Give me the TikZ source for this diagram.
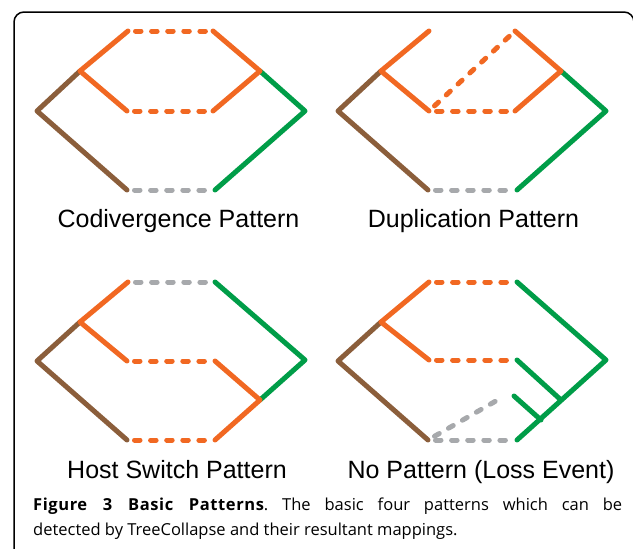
\documentclass[tikz,border=0pt]{standalone}
\usepackage{fontspec}
\usepackage{xcolor}
\usetikzlibrary{positioning}
\newfontfamily\labfont{Liberation Sans}
\newfontfamily\capfont{Open Sans}
\newfontfamily\capbold[LetterSpace=3.5]{Open Sans Bold}
\definecolor{hostbrown}{RGB}{139,94,59}
\definecolor{hostgreen}{RGB}{0,157,72}
\definecolor{parorange}{RGB}{241,104,34}
\definecolor{lossgray}{RGB}{167,169,172}

\begin{document}
\frenchspacing
\begin{tikzpicture}[x=1pt, y=-1pt,
    branch/.style={line width=5pt, line cap=round, line join=round},
    link/.style={branch, dash pattern=on 5.5pt off 10.6pt, shorten <=7.5pt, shorten >=7.5pt},
    tag/.style={font=\labfont\fontsize{25}{30}\selectfont, anchor=base, inner sep=0pt},
    captext/.style={font=\capfont\fontsize{16.5}{26}\selectfont, anchor=base west, inner sep=0pt}]
    \useasboundingbox (0,0) rectangle (633,549);
    \clip (0,0) rectangle (633,549);

    % Frame
    \draw[line width=1.5pt, rounded corners=10pt] (14,12) rectangle (634,575);

    % Codivergence pattern
    \begin{scope}
        \coordinate (root) at (37,111);
        \coordinate (pj) at (80,71);
        \coordinate (tl) at (128,31);
        \coordinate (ml) at (127,111);
        \coordinate (bl) at (127,190);
        \coordinate (tr) at (213,31);
        \coordinate (mr) at (213,111);
        \coordinate (br) at (215,190);
        \coordinate (rj) at (260,71);
        \coordinate (rroot) at (305,111);
        \draw[branch, hostbrown] (pj) -- (root) -- (bl);
        \draw[branch, hostgreen] (rj) -- (rroot) -- (br);
        \draw[branch, parorange] (tl) -- (pj) -- (ml);
        \draw[branch, parorange] (tr) -- (rj) -- (mr);
        \draw[link, parorange] (tl) -- (tr);
        \draw[link, parorange] (ml) -- (mr);
        \draw[link, lossgray] (bl) -- (br);
        \node[tag] (codiv) at (178.5,227) {Codivergence Pattern};
    \end{scope}

    % Duplication pattern
    \begin{scope}[shift={(301,0)}]
        \coordinate (root) at (37,111);
        \coordinate (pj) at (80,71);
        \coordinate (tl) at (128,31);
        \coordinate (ml) at (128,111);
        \coordinate (bl) at (127,190);
        \coordinate (tr) at (214,31);
        \coordinate (mr) at (214,111);
        \coordinate (br) at (216,190);
        \coordinate (rj) at (260,71);
        \coordinate (rroot) at (305,111);
        \draw[branch, hostbrown] (pj) -- (root) -- (bl);
        \draw[branch, hostgreen] (rj) -- (rroot) -- (br);
        \draw[branch, parorange] (tl) -- (pj) -- (ml);
        \draw[branch, parorange] (tr) -- (rj) -- (mr);
        \draw[link, parorange] (ml) -- (tr);
        \draw[link, parorange] (ml) -- (mr);
        \draw[link, lossgray] (bl) -- (br);
        \node[tag] (dupl) at (172.5,227) {Duplication Pattern};
    \end{scope}

    % Host switch pattern
    \begin{scope}[shift={(0,251)}]
        \coordinate (root) at (37,110);
        \coordinate (pj) at (80,71);
        \coordinate (tl) at (128,31);
        \coordinate (ml) at (127,110);
        \coordinate (bl) at (127,189);
        \coordinate (tr) at (215,31);
        \coordinate (mr) at (215,110);
        \coordinate (br) at (215,189);
        \coordinate (hj) at (260,149);
        \coordinate (rroot) at (305,109);
        \draw[branch, hostbrown] (pj) -- (root) -- (bl);
        \draw[branch, hostgreen] (tr) -- (rroot) -- (hj);
        \draw[branch, parorange] (tl) -- (pj) -- (ml);
        \draw[branch, parorange] (mr) -- (hj) -- (br);
        \draw[link, lossgray] (tl) -- (tr);
        \draw[link, parorange] (ml) -- (mr);
        \draw[link, parorange] (bl) -- (br);
        \node[tag] (hostsw) at (177,227) {Host Switch Pattern};
    \end{scope}

    % No pattern (loss event)
    \begin{scope}[shift={(301,251)}]
        \coordinate (root) at (37,110);
        \coordinate (pj) at (80,71);
        \coordinate (tl) at (128,31);
        \coordinate (ml) at (128,109);
        \coordinate (bl) at (127,189);
        \coordinate (tr) at (216,31);
        \coordinate (mr) at (216,109);
        \coordinate (br) at (216,189);
        \coordinate (rroot) at (305,109);
        \coordinate (ja) at (260,149);
        \coordinate (gb) at (213,145);
        \coordinate (jb) at (240,169);
        \coordinate (lost) at (207,143);
        \draw[branch, hostbrown] (pj) -- (root) -- (bl);
        \draw[branch, hostgreen] (tr) -- (rroot) -- (br);
        \draw[branch, hostgreen] (mr) -- (ja);
        \draw[branch, hostgreen] (gb) -- (jb);
        \draw[branch, parorange] (tl) -- (pj) -- (ml);
        \draw[link, parorange] (tl) -- (tr);
        \draw[link, parorange] (ml) -- (mr);
        \draw[link, lossgray] (bl) -- (br);
        \draw[link, lossgray] (bl) -- (lost);
        \node[tag] (nopat) at (180,227) {No Pattern (Loss Event)};
    \end{scope}

    % Caption
    \node[captext] (cap1) at (33,510)
        {\makebox[589pt][s]{{\capbold Figure 3 Basic Patterns}. The basic four patterns which can be}};
    \node[captext] (cap2) at (33,535)
        {detected by TreeCollapse and their resultant mappings.};
\end{tikzpicture}
\end{document}
